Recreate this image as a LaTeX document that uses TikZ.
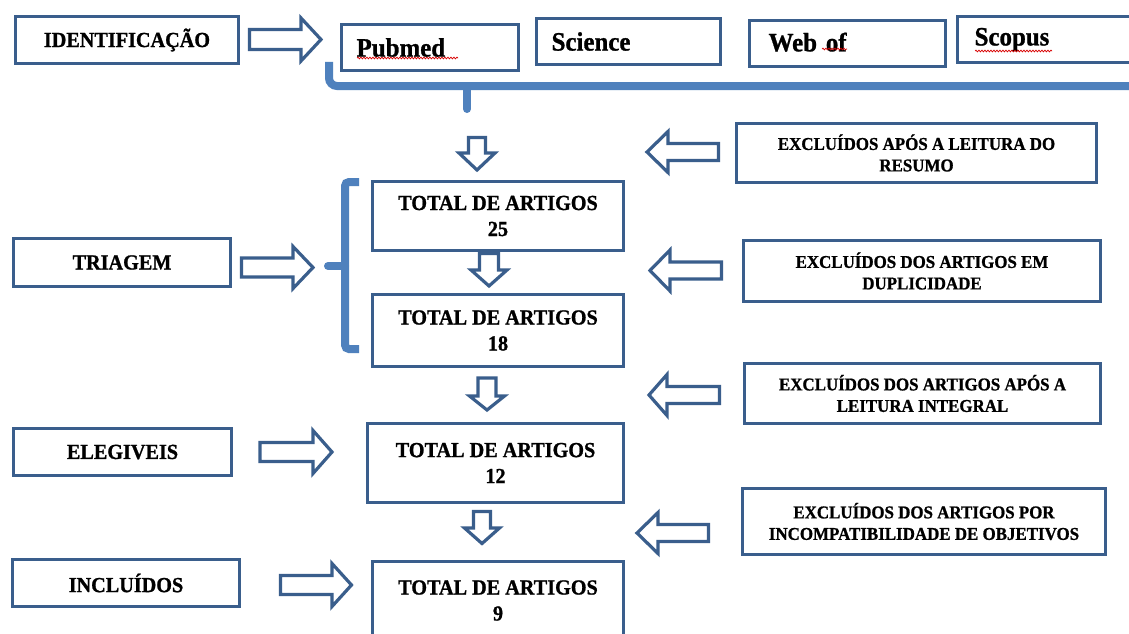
\documentclass[tikz,border=0pt]{standalone}
\usepackage{fontspec}
\setmainfont[FakeStretch=0.94,BoldFeatures={FakeBold=1}]{Liberation Serif}
\usetikzlibrary{decorations.pathmorphing}
\definecolor{boxc}{RGB}{58,94,140}
\definecolor{brc}{RGB}{79,129,189}
% horizontal block arrow: tail x, head-base x, tip x, centre y, shaft half, head half
\newcommand\RArr[6]{\draw[arr] (#1,{#4-#5}) -- (#2,{#4-#5}) -- (#2,{#4-#6}) -- (#3,#4) -- (#2,{#4+#6}) -- (#2,{#4+#5}) -- (#1,{#4+#5}) -- cycle;}
% vertical block arrow: tail y, head-base y, tip y, centre x, shaft half, head half
\newcommand\DArr[6]{\draw[arr] ({#4-#5},#1) -- ({#4-#5},#2) -- ({#4-#6},#2) -- (#4,#3) -- ({#4+#6},#2) -- ({#4+#5},#2) -- ({#4+#5},#1) -- cycle;}
\begin{document}
\begin{tikzpicture}[x=1pt,y=-1pt,
 box/.style={draw=boxc,line width=3.4pt,fill=white,inner sep=0pt,align=center},
 lab/.style={box,font=\bfseries\fontsize{21.5}{24}\selectfont},
 src/.style={box,align=left,inner xsep=15pt,font=\bfseries\fontsize{26.5}{30}\selectfont},
 tot/.style={box,font=\bfseries\fontsize{21.5}{26}\selectfont},
 exc/.style={box,font=\bfseries\fontsize{18}{21.5}\selectfont},
 arr/.style={draw=boxc,line width=3.2pt,fill=white,line join=miter},
 brk/.style={draw=brc,line width=8pt},
 sq/.style={draw=red!85!black,line width=0.7pt,decorate,decoration={snake,amplitude=0.9pt,segment length=3pt}}]
\useasboundingbox (0,0) rectangle (1129,634);
\clip (0,0) rectangle (1129,634);
\fill[white] (0,0) rectangle (1129,634);

% braces
\draw[brk,rounded corners=8pt] (329,62) -- (329,86) -- (1150,86);
\draw[brk,line cap=round] (467,86) -- (467,109);
\draw[brk,rounded corners=4pt] (359,182) -- (345,182) -- (345,349) -- (359,349);
\draw[brk,line cap=round] (345,266) -- (328,266);

% left labels
\node[lab,minimum width=222.8pt,minimum height=46.8pt] (ident) at (127,40) {IDENTIFICAÇÃO};
\node[lab,minimum width=216.8pt,minimum height=47.8pt] (triagem) at (122,262.5) {TRIAGEM};
\node[lab,minimum width=217.8pt,minimum height=46.8pt] (eleg) at (122.5,452) {ELEGIVEIS};
\node[lab,minimum width=226.8pt,minimum height=46.8pt] (incl) at (126,583) {INCLUÍDOS};

% sources
\node[src,text width=146.8pt,minimum width=176.8pt,minimum height=45.8pt] (pubmed) at (430,47.5) {Pubmed};
\node[src,text width=153.8pt,minimum width=183.8pt,minimum height=45.8pt] (science) at (628.5,41.5) {Science};
\node[src,inner xsep=19pt,text width=157.8pt,minimum width=195.8pt,minimum height=45.8pt] (webof) at (847.5,43.5) {\raisebox{3pt}{Web of}};
\node[src,inner xsep=17pt,text width=156.8pt,minimum width=190.8pt,minimum height=45.8pt] (scopus) at (1053,39.5) {Scopus};
\draw[sq] (357,58) -- (458,58);
\draw[sq] (822,49) -- (847,49);
\draw[sq] (975,51) -- (1052,51);

% totals
\node[tot,minimum width=250.8pt,minimum height=68.8pt] (t25) at (498,216) {TOTAL DE ARTIGOS\\25};
\node[tot,minimum width=250.8pt,minimum height=71.8pt] (t18) at (498,330.5) {TOTAL DE ARTIGOS\\18};
\node[tot,minimum width=255.8pt,minimum height=78.8pt] (t12) at (495.5,463) {TOTAL DE ARTIGOS\\12};
\node[tot,minimum width=250.8pt,minimum height=77.8pt] (t9) at (498,600.5) {TOTAL DE ARTIGOS\\9};

% exclusions
\node[exc,minimum width=359.8pt,minimum height=58.8pt] (r1) at (916.5,153) {EXCLUÍDOS APÓS A LEITURA DO\\RESUMO};
\node[exc,minimum width=356.8pt,minimum height=60.8pt] (r2) at (922,271) {EXCLUÍDOS DOS ARTIGOS EM\\DUPLICIDADE};
\node[exc,minimum width=355.8pt,minimum height=59.8pt] (r3) at (922.5,393.5) {EXCLUÍDOS DOS ARTIGOS APÓS A\\LEITURA INTEGRAL};
\node[exc,minimum width=362.8pt,minimum height=65.8pt] (r4) at (924,521.5) {EXCLUÍDOS DOS ARTIGOS POR\\INCOMPATIBILIDADE DE OBJETIVOS};

% block arrows pointing right
\RArr{249.5}{301}{321}{39.5}{10}{21.5}
\RArr{241.5}{293}{313}{267.5}{9.5}{21}
\RArr{260}{313}{332}{452}{9.5}{21.5}
\RArr{280.5}{332}{351.5}{585}{9.5}{21.5}
% block arrows pointing down
\DArr{137.5}{153}{170}{477}{8.5}{18}
\DArr{253.5}{270}{286}{489}{9.5}{18}
\DArr{378}{396}{410}{487}{9}{17.5}
\DArr{511.5}{528}{543.5}{482}{8.5}{17.5}
% block arrows pointing left
\RArr{718.5}{668}{647}{152}{8.5}{20.5}
\RArr{721.5}{670}{650}{270.5}{8.5}{20.5}
\RArr{719.5}{667}{649}{395}{8.5}{20.5}
\RArr{708.5}{658}{637}{533}{8.5}{20.5}
\end{tikzpicture}
\end{document}
